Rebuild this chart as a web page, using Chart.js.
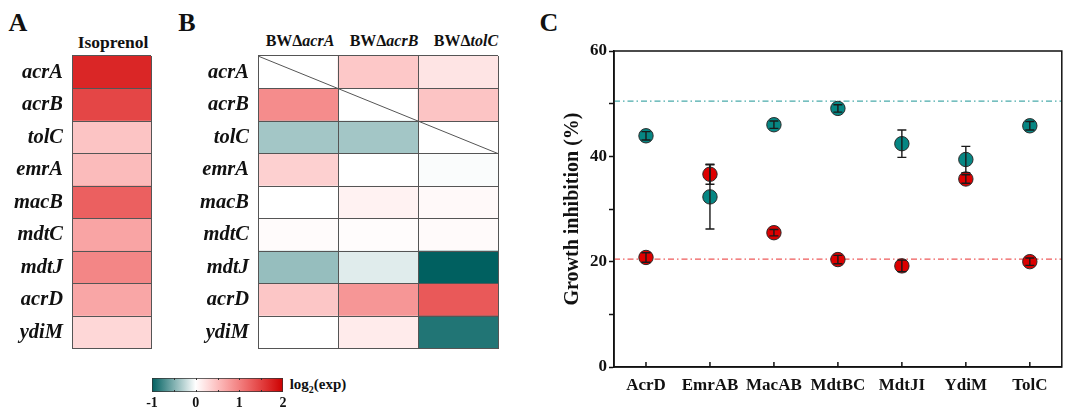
<!DOCTYPE html>
<html>
<head>
<meta charset="utf-8">
<script src="https://cdn.jsdelivr.net/npm/chart.js@4.4.1/dist/chart.umd.min.js"></script>
<style>
  body { margin: 0; background: #fff; width: 1070px; height: 410px; position: relative; overflow: hidden; font-family: "Liberation Serif", serif; }
  canvas { position: absolute; }
  .t { position: absolute; font-weight: bold; color: #111; white-space: nowrap; line-height: 1; transform: translate(-50%, -50%); }
  .t i { font-style: italic; }
</style>
</head>
<body>
<div class="t" style="left:18px;top:23px;font-size:26px">A</div>
<div class="t" style="left:187px;top:23px;font-size:26px">B</div>
<div class="t" style="left:549px;top:23px;font-size:26px">C</div>
<div class="t" style="left:113px;top:43px;font-size:17.5px">Isoprenol</div>
<div class="t" style="left:300px;top:41px;font-size:16px">BWΔ<i>acrA</i></div>
<div class="t" style="left:384px;top:41px;font-size:16px">BWΔ<i>acrB</i></div>
<div class="t" style="left:466px;top:41px;font-size:16px">BWΔ<i>tolC</i></div>
<div class="t" style="left:318px;top:386px;font-size:15px">log<sub style="font-size:10px">2</sub>(exp)</div>

<canvas id="heatA" width="160" height="370" style="left:0;top:0"></canvas>
<canvas id="heatB" width="345" height="370" style="left:160px;top:0"></canvas>
<canvas id="colorBar" width="220" height="40" style="left:140px;top:370px"></canvas>
<canvas id="growth" width="530" height="410" style="left:540px;top:0"></canvas>

<script>
// heatmap data (log2 fold change)
const genes = ["acrA", "acrB", "tolC", "emrA", "macB", "mdtC", "mdtJ", "acrD", "ydiM"];
const isoprenol = [1.7, 1.45, 0.46, 0.53, 1.25, 0.71, 0.95, 0.7, 0.31];
const bwAcrA = [null, 0.9, -0.36, 0.37, 0, 0.03, -0.41, 0.45, 0];
const bwAcrB = [0.43, null, -0.36, 0, 0.1, 0.02, -0.12, 0.82, 0.16];
const bwTolC = [0.21, 0.46, null, -0.02, 0.05, 0.04, -1.0, 1.3, -0.87];
const colorTicks = [-1, 0, 1, 2];

// growth inhibition (%)
const systems = ["AcrD", "EmrAB", "MacAB", "MdtBC", "MdtJI", "YdiM", "TolC"];
const tealMean = [43.9, 32.3, 46.0, 49.1, 42.4, 39.4, 45.8];
const tealErr = [0.8, 6.1, 0.7, 0.7, 2.6, 2.5, 0.8];
const redMean = [20.8, 36.6, 25.5, 20.4, 19.2, 35.7, 20.0];
const redErr = [0.9, 1.9, 0.6, 0.8, 1.1, 0.8, 0.7];
const tealRef = 50.5;
const redRef = 20.5;

Chart.defaults.font.family = "'Liberation Serif', serif";
Chart.defaults.color = "#111";

function heatColor(v) {
    if (v === null) return "rgba(0,0,0,0)";
    if (v >= 0) {
        const t = Math.min(v / 2, 1);
        return `rgb(${Math.round(255 - 51 * t * t)},${Math.round(255 - 255 * t)},${Math.round(255 - 255 * t)})`;
    }
    const t = Math.min(-v, 1);
    return `rgb(${Math.round(255 - 255 * t)},${Math.round(255 - 159 * t)},${Math.round(255 - 159 * t)})`;
}

const geneFont = { style: "italic", weight: "bold", size: 20.5 };

function heatScales(xMax, yWidth) {
    return {
        x: {
            min: 0, max: xMax,
            ticks: { display: false, stepSize: 1 },
            grid: { color: "#555", drawTicks: false, z: 1 },
            border: { display: false },
            afterFit(s) { s.height = 0; }
        },
        y: {
            ticks: { padding: 9, color: "#111", font: geneFont, autoSkip: false },
            grid: { offset: true, color: "#555", drawTicks: false, z: 1 },
            border: { display: false },
            afterFit(s) { s.width = yWidth; }
        }
    };
}

// panel A
new Chart(document.getElementById("heatA"), {
    type: "bar",
    data: {
        labels: genes,
        datasets: [{
            data: genes.map(() => [0, 1]),
            backgroundColor: isoprenol.map(heatColor),
            borderWidth: 0,
            barPercentage: 1,
            categoryPercentage: 1
        }]
    },
    options: {
        indexAxis: "y",
        responsive: false,
        animation: false,
        layout: { padding: { top: 56, bottom: 11, right: 9, left: 0 } },
        plugins: { legend: { display: false }, tooltip: { enabled: false } },
        scales: heatScales(1, 72)
    }
});

// panel B
const diagonal = {
    id: "diagonal",
    afterDraw(chart) {
        const { ctx, scales: { x, y } } = chart;
        ctx.save();
        ctx.strokeStyle = "#555";
        ctx.lineWidth = 1;
        ctx.beginPath();
        ctx.moveTo(x.getPixelForValue(0), y.getPixelForValue(-0.5));
        ctx.lineTo(x.getPixelForValue(3), y.getPixelForValue(2.5));
        ctx.stroke();
        ctx.restore();
    }
};

new Chart(document.getElementById("heatB"), {
    type: "bar",
    plugins: [diagonal],
    data: {
        labels: genes,
        datasets: [bwAcrA, bwAcrB, bwTolC].map((vals, j) => ({
            data: vals.map((v) => (v === null ? null : [j, j + 1])),
            backgroundColor: vals.map(heatColor),
            borderWidth: 0,
            grouped: false,
            barPercentage: 1,
            categoryPercentage: 1
        }))
    },
    options: {
        indexAxis: "y",
        responsive: false,
        animation: false,
        layout: { padding: { top: 56, bottom: 11, right: 7, left: 0 } },
        plugins: { legend: { display: false }, tooltip: { enabled: false } },
        scales: heatScales(3, 98)
    }
});

// colour bar
const barTicks = {
    id: "barTicks",
    afterDraw(chart) {
        const { ctx, chartArea, scales: { x } } = chart;
        ctx.save();
        ctx.strokeStyle = "#333";
        ctx.lineWidth = 1;
        for (let v = -0.5; v < 2; v += 0.5) {
            const px = Math.round(x.getPixelForValue(v)) + 0.5;
            ctx.beginPath();
            ctx.moveTo(px, chartArea.top);
            ctx.lineTo(px, chartArea.top + 2);
            ctx.moveTo(px, chartArea.bottom);
            ctx.lineTo(px, chartArea.bottom - 2);
            ctx.stroke();
        }
        ctx.restore();
    }
};

new Chart(document.getElementById("colorBar"), {
    type: "bar",
    plugins: [barTicks],
    data: {
        labels: ["log2(exp)"],
        datasets: [{
            data: [[colorTicks[0], colorTicks[colorTicks.length - 1]]],
            backgroundColor(c) {
                const chart = c.chart;
                if (!chart.chartArea) return "#fff";
                const x = chart.scales.x;
                const g = chart.ctx.createLinearGradient(x.getPixelForValue(-1), 0, x.getPixelForValue(2), 0);
                for (let v = -1; v <= 2.001; v += 0.25) g.addColorStop((v + 1) / 3, heatColor(v));
                return g;
            },
            borderColor: "#333",
            borderWidth: 1,
            borderSkipped: false,
            barPercentage: 1,
            categoryPercentage: 1
        }]
    },
    options: {
        indexAxis: "y",
        responsive: false,
        animation: false,
        layout: { padding: { top: 8, bottom: 0, left: 12, right: 77 } },
        plugins: { legend: { display: false }, tooltip: { enabled: false } },
        scales: {
            x: {
                min: -1, max: 2,
                afterBuildTicks(s) { s.ticks = colorTicks.map((v) => ({ value: v })); },
                ticks: { padding: 3, color: "#111", font: { weight: "bold", size: 14 } },
                grid: { display: false, drawTicks: false },
                border: { display: false },
                afterFit(s) { s.height = 18; }
            },
            y: { display: false }
        }
    }
});

// panel C
const refLines = {
    id: "refLines",
    beforeDatasetsDraw(chart) {
        const { ctx, chartArea, scales: { y } } = chart;
        ctx.save();
        ctx.lineWidth = 1.3;
        ctx.setLineDash([6, 3, 1.5, 3]);
        [[tealRef, "#4aabab"], [redRef, "#ee5a5a"]].forEach(([v, col]) => {
            const py = y.getPixelForValue(v);
            ctx.strokeStyle = col;
            ctx.beginPath();
            ctx.moveTo(chartArea.left, py);
            ctx.lineTo(chartArea.right, py);
            ctx.stroke();
        });
        ctx.restore();
    }
};

const errorBars = {
    id: "errorBars",
    afterDatasetsDraw(chart) {
        const { ctx, scales: { y } } = chart;
        const errs = [tealErr, redErr];
        ctx.save();
        ctx.strokeStyle = "#1a1a1a";
        ctx.lineWidth = 1.4;
        chart.data.datasets.forEach((ds, d) => {
            chart.getDatasetMeta(d).data.forEach((pt, i) => {
                const hi = y.getPixelForValue(ds.data[i] + errs[d][i]);
                const lo = y.getPixelForValue(ds.data[i] - errs[d][i]);
                ctx.beginPath();
                ctx.moveTo(pt.x, hi);
                ctx.lineTo(pt.x, lo);
                ctx.moveTo(pt.x - 4.5, hi);
                ctx.lineTo(pt.x + 4.5, hi);
                ctx.moveTo(pt.x - 4.5, lo);
                ctx.lineTo(pt.x + 4.5, lo);
                ctx.stroke();
            });
        });
        ctx.restore();
    }
};

const frame = {
    id: "frame",
    afterDraw(chart) {
        const { ctx, chartArea: a, scales: { x } } = chart;
        ctx.save();
        ctx.strokeStyle = "#111";
        ctx.lineWidth = 1.5;
        ctx.strokeRect(a.left, a.top, a.right - a.left, a.bottom - a.top);
        ctx.beginPath();
        systems.forEach((s, i) => {
            const px = x.getPixelForValue(i);
            ctx.moveTo(px, a.bottom);
            ctx.lineTo(px, a.bottom - 5);
        });
        ctx.stroke();
        ctx.restore();
    }
};

const pointStyle = (fill) => ({
    showLine: false,
    pointRadius: 7.2,
    pointHoverRadius: 7.2,
    pointBackgroundColor: fill,
    pointBorderColor: "#2a2a2a",
    pointBorderWidth: 1
});

new Chart(document.getElementById("growth"), {
    type: "line",
    plugins: [refLines, errorBars, frame],
    data: {
        labels: systems,
        datasets: [
            { label: "teal", data: tealMean, ...pointStyle("#068683") },
            { label: "red", data: redMean, ...pointStyle("#dd0000") }
        ]
    },
    options: {
        responsive: false,
        animation: false,
        layout: { padding: { top: 51, right: 7, left: 17, bottom: 0 } },
        plugins: { legend: { display: false }, tooltip: { enabled: false } },
        scales: {
            x: {
                offset: true,
                grid: { drawOnChartArea: false, drawTicks: false },
                border: { color: "#111", width: 1.5 },
                ticks: { padding: 8, color: "#111", font: { weight: "bold", size: 17 }, autoSkip: false, maxRotation: 0 },
                afterFit(s) { s.height = 43; }
            },
            y: {
                min: 0, max: 60,
                ticks: {
                    stepSize: 10,
                    padding: 2,
                    color: "#111",
                    font: { weight: "bold", size: 17 },
                    callback: (v) => (v % 20 === 0 ? v : "")
                },
                grid: { drawOnChartArea: false, tickLength: 5, color: "#111", tickWidth: 1.5 },
                border: { color: "#111", width: 1.5 },
                title: {
                    display: true,
                    text: "Growth inhibition (%)",
                    color: "#111",
                    font: { weight: "bold", size: 20 },
                    padding: { top: 4, bottom: 4 }
                },
                afterFit(s) { s.width = 57; }
            }
        }
    }
});
</script>
</body>
</html>
